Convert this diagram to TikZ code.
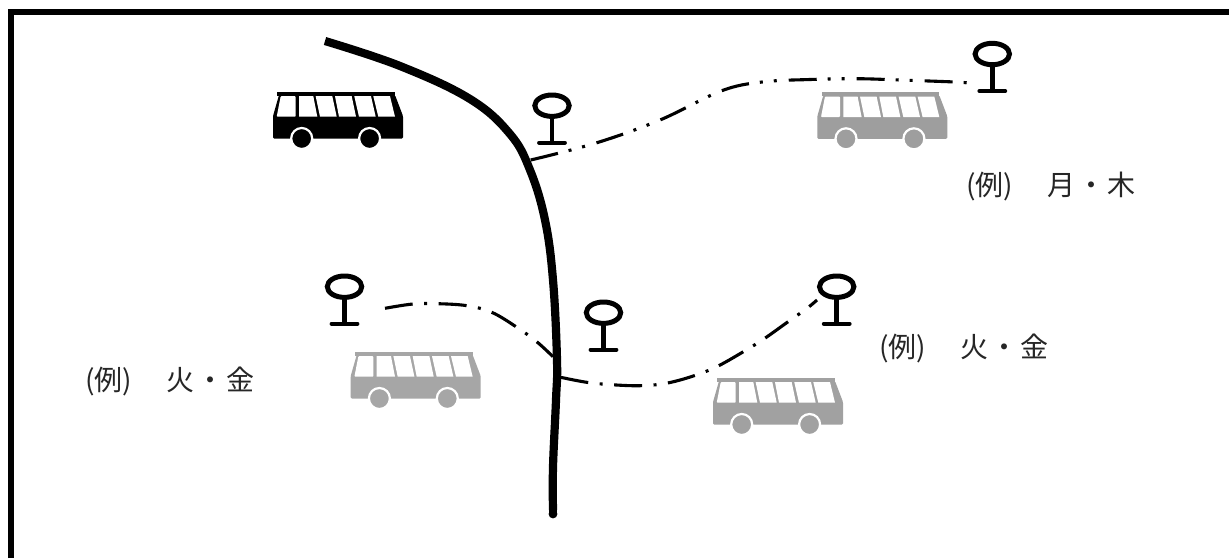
\documentclass[tikz,border=0pt]{standalone}
\usepackage{fontspec}
\newfontfamily\cjk{Noto Sans CJK JP}
\tikzset{
  x=1pt,y=-1pt,
  road/.style={line width=8.2pt,line cap=butt},
  branch/.style={line width=3.1pt,dash pattern=on 28pt off 11pt on 3pt off 11pt on 3pt off 12pt},
  branchb/.style={line width=3.1pt,dash pattern=on 28pt off 11.5pt on 3pt off 11.5pt},
  label/.style={font=\cjk\fontsize{28}{28}\selectfont,inner sep=0pt,text=black!85,anchor=west},
  stopring/.style={line width=5pt,draw=black,fill=white},
  stoppole/.style={line width=4.6pt,draw=black},
  stopbase/.style={line width=3.8pt,draw=black,line cap=round},
}
\newcommand{\busicon}[2]{%
\begin{scope}[shift={(#1)}]
  \fill[#2,rounded corners=1.2pt] (6,3) -- (122,3) -- (130,24) -- (130,46.5) -- (0,46.5) -- (0,24) -- cycle;
  \fill[#2] (4.3,0) rectangle (122,3.6);
  \fill[white,rounded corners=0.8pt] (7.7,4.2) -- (22.7,4.2) -- (22.7,24.7) -- (3.7,24.7) -- cycle;
  \fill[white] (26,4.2) -- (40.3,4.2) -- (44.3,24.7) -- (26,24.7) -- cycle;
  \fill[white] (42.7,4.2) -- (59.3,4.2) -- (63.7,24.7) -- (47,24.7) -- cycle;
  \fill[white] (62,4.2) -- (78.7,4.2) -- (83,24.7) -- (66,24.7) -- cycle;
  \fill[white] (81.3,4.2) -- (98,4.2) -- (102.7,24.7) -- (86,24.7) -- cycle;
  \fill[white] (100.3,4.2) -- (117,4.2) -- (122,24.7) -- (105.3,24.7) -- cycle;
  \fill[#2,draw=white,line width=2.2pt] (28.7,46.5) circle[radius=10.5];
  \fill[#2,draw=white,line width=2.2pt] (96.6,46.5) circle[radius=10.5];
\end{scope}}
\newcommand{\busstop}[1]{%
\begin{scope}[shift={(#1)}]
  \draw[stoppole] (0,10) -- (0,37);
  \draw[stopring] (0,0) ellipse[x radius=17.2,y radius=10.7];
  \draw[stopbase] (-13,37) -- (13,37);
\end{scope}}
\newcommand{\lab}[3]{(例)\hspace{#1}#2\hspace{2pt}・\hspace{2pt}#3}
\begin{document}
\begin{tikzpicture}
\useasboundingbox (0,0) rectangle (1229,558);
\fill[white] (0,0) rectangle (1229,558);
\draw[line width=6pt,line cap=butt,miter limit=10] (11,558) -- (11,12) -- (1229,12);
\draw[road] plot[smooth,tension=0.65] coordinates {(325,41) (400,66) (470,99) (510,134) (530,170) (545,220) (553,280) (557,360) (556,400) (553,467) (553,510)};
\fill (553,514) circle[radius=4.4];
\fill (548.6,505) rectangle (557.4,514);
\draw[branch] plot[smooth,tension=0.6] coordinates {(530.7,160) (596,143) (660,120) (721,91) (762,82) (810,79.5) (857,78.7) (900,80) (955,82) (968,83)};
\draw[branchb] plot[smooth,tension=0.6] coordinates {(385,308.3) (413,304) (438,303.7) (467,305.7) (491.7,312.3) (516,326.7) (536.7,341.7) (553,356.7)};
\draw[branchb] plot[smooth,tension=0.6] coordinates {(560.7,377.3) (586.7,382.3) (611.7,384.7) (640,385.7) (666,383.3) (693.3,376) (716.7,366.7) (741.7,352.7) (763.3,339.3) (786.7,322.7) (807,308.3) (817,300)};
\busicon{273,92}{black}
\busicon{817.3,92.3}{black!38}
\busicon{350.7,352}{black!35}
\busicon{713,378}{black!37}
\busstop{552,105.7}
\busstop{992.3,54}
\busstop{344.5,286.7}
\busstop{603.5,312.7}
\busstop{836.7,286.7}
\node[label] (t1) at (966,186) {\lab{34pt}{月}{木}};
\node[label] (t2) at (85,381) {\lab{34pt}{火}{金}};
\node[label] (t3) at (879,348) {\lab{34pt}{火}{金}};
\end{tikzpicture}
\end{document}
